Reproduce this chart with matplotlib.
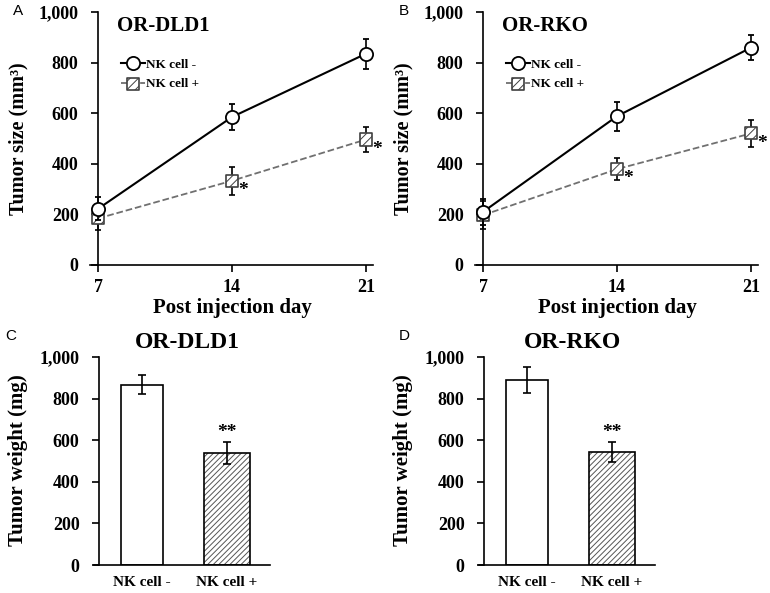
import numpy as np
import matplotlib.pyplot as plt
from matplotlib.lines import Line2D
from matplotlib.ticker import FuncFormatter

plt.rcParams['font.family'] = 'Liberation Serif'
plt.rcParams['font.weight'] = 'bold'
plt.rcParams['hatch.linewidth'] = 0.7

days = [7, 14, 21]
dld1_ctrl = [222, 585, 835]
dld1_ctrl_err = [45, 52, 60]
dld1_nk = [184, 333, 496]
dld1_nk_err = [46, 56, 50]
rko_ctrl = [210, 588, 859]
rko_ctrl_err = [50, 57, 50]
rko_nk = [197, 379, 520]
rko_nk_err = [55, 45, 53]

groups = ['NK cell -', 'NK cell +']
dld1_weight = [867, 538]
dld1_weight_err = [47, 52]
rko_weight = [891, 543]
rko_weight_err = [62, 48]

W, H = 770, 593
fig = plt.figure(figsize=(W / 100, H / 100), dpi=100)


def rect(x0, y0, x1, y1):
    # pixel box -> figure fraction
    return [x0 / W, 1 - y1 / H, (x1 - x0) / W, (y1 - y0) / H]


comma = FuncFormatter(lambda v, p: f'{int(v):,}')


def style_axis(ax):
    for s in ['top', 'right']:
        ax.spines[s].set_visible(False)
    for s in ['left', 'bottom']:
        ax.spines[s].set_linewidth(1.2)
    ax.set_ylim(0, 1000)
    ax.set_yticks(range(0, 1001, 200))
    ax.yaxis.set_major_formatter(comma)
    ax.tick_params(axis='y', direction='out', length=5, width=1.2, pad=9, labelsize=13)


def line_panel(ax, title, ctrl, ctrl_err, nk, nk_err, stars):
    style_axis(ax)
    ax.set_xlim(6.58, 21.37)
    ax.spines['left'].set_position(('data', 7))
    ax.set_xticks(days)
    ax.tick_params(axis='x', direction='out', length=5, width=1.2, pad=5, labelsize=13)

    ax.errorbar(days, nk, yerr=nk_err, fmt='--', color='#707070', lw=1.3,
                ecolor='black', elinewidth=1.2, capsize=2.5, capthick=1.2, zorder=2)
    sq = ax.scatter(days, nk, marker='s', s=75, facecolor='white', edgecolor='#404040',
                    hatch='////', linewidths=1.2, zorder=3)
    ax.errorbar(days, ctrl, yerr=ctrl_err, fmt='o-', color='black', lw=1.5,
                mfc='white', mec='black', mew=1.3, ms=9.5,
                ecolor='black', elinewidth=1.2, capsize=2.5, capthick=1.2, zorder=4)

    for x, y in zip(days[1:], stars):
        ax.text(x + 0.6, y, '*', fontsize=14, ha='center', va='center', clip_on=False)

    h1 = Line2D([], [], color='black', lw=1.5, marker='o', ms=9.5,
                mfc='white', mec='black', mew=1.3)
    h2 = Line2D([], [], color='#707070', lw=1.3, ls='--')
    ax.legend([h1, (h2, sq)], ['NK cell -', 'NK cell +'], loc='upper left',
              bbox_to_anchor=(0.11, 0.816), frameon=False, borderpad=0, borderaxespad=0,
              handlelength=1.8, handletextpad=0.1, labelspacing=0.55,
              prop={'family': 'Liberation Serif', 'weight': 'bold', 'size': 9.5})

    ax.text(0.095, 0.945, title, transform=ax.transAxes, fontsize=15,
            fontweight='bold', ha='left', va='center')
    ax.set_xlabel('Post injection day', fontsize=15, fontweight='bold')
    ax.xaxis.set_label_coords(0.505, -0.13)
    ax.set_ylabel('Tumor size (mm³)', fontsize=14.5, fontweight='bold')
    ax.yaxis.set_label_coords(-0.219, 0.5)


def bar_panel(ax, title, vals, errs):
    style_axis(ax)
    x = np.arange(len(groups))
    ax.set_xlim(-0.565, 1.506)
    ax.spines['left'].set_position(('data', -0.506))
    ax.set_xticks(x)
    ax.set_xticklabels(groups)
    ax.tick_params(axis='x', length=0, pad=8, labelsize=11)

    ax.bar(x[0], vals[0], width=0.5, color='white', edgecolor='black', lw=1.2, zorder=2)
    ax.bar(x[1], vals[1], width=0.54, color='white', edgecolor='#555555', lw=0,
           hatch='//////', zorder=2)
    ax.bar(x[1], vals[1], width=0.54, fill=False, edgecolor='black', lw=1.2, zorder=3)
    ax.errorbar(x, vals, yerr=errs, fmt='none', ecolor='black', elinewidth=1.2,
                capsize=3, capthick=1.2, zorder=4)
    ax.text(x[1], vals[1] + errs[1] + 45, '**', fontsize=14, ha='center', va='center')

    ax.set_title(title, fontsize=17, fontweight='bold', x=0.53, y=1.005)
    ax.set_ylabel('Tumor weight (mg)', fontsize=15, fontweight='bold')
    ax.yaxis.set_label_coords(-0.375, 0.505)


axA = fig.add_axes(rect(90, 12, 373, 265))
axB = fig.add_axes(rect(475, 12, 758, 265))
axC = fig.add_axes(rect(94, 357, 270, 565))
axD = fig.add_axes(rect(479, 357, 655, 565))

line_panel(axA, 'OR-DLD1', dld1_ctrl, dld1_ctrl_err, dld1_nk, dld1_nk_err, [295, 455])
line_panel(axB, 'OR-RKO', rko_ctrl, rko_ctrl_err, rko_nk, rko_nk_err, [340, 480])
bar_panel(axC, 'OR-DLD1', dld1_weight, dld1_weight_err)
bar_panel(axD, 'OR-RKO', rko_weight, rko_weight_err)

for lab, (px, py) in zip('ABCD', [(18, 11), (404, 11), (11, 336), (404, 336)]):
    fig.text(px / W, 1 - py / H, lab, fontsize=11, family='Liberation Sans',
             fontweight='normal', ha='center', va='center')

fig.savefig('out.png', dpi=100)
